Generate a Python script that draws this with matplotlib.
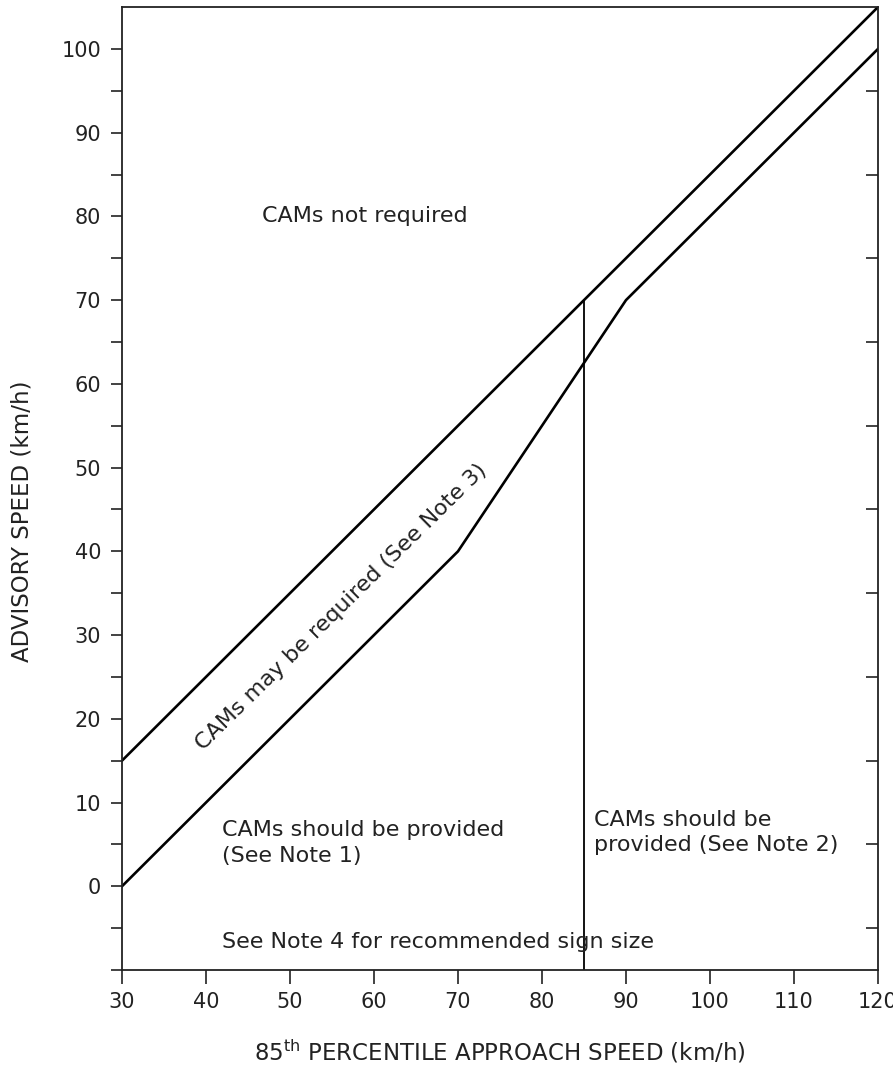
import matplotlib.pyplot as plt

plt.rcParams['font.family'] = ['DejaVu Sans']
plt.rcParams['mathtext.default'] = 'regular'

# boundary lines
upper_x = [30, 120]
upper_y = [15, 105]
lower_x = [30, 70, 90, 120]
lower_y = [0, 40, 70, 100]
split_x = [85, 85]
split_y = [-10, 70]

xticks = [30, 40, 50, 60, 70, 80, 90, 100, 110, 120]
yticks = [0, 10, 20, 30, 40, 50, 60, 70, 80, 90, 100]
yminor = [-10, -5, 5, 15, 25, 35, 45, 55, 65, 75, 85, 95]
right_ticks = [-5, 5, 15, 25, 35, 45, 55, 65, 75, 85, 95]

txt = '#222222'
fs_tick = 15
fs = 16

fig = plt.figure(figsize=(8.93, 10.82), dpi=100)
ax = fig.add_axes([0.1366, 0.1035, 0.8466, 0.89])

ax.plot(upper_x, upper_y, color='black', lw=1.9)
ax.plot(lower_x, lower_y, color='black', lw=1.9)
ax.plot(split_x, split_y, color='black', lw=1.3)

ax.set_xlim(30, 120)
ax.set_ylim(-10, 105)

ax.set_xticks(xticks)
ax.set_yticks(yticks)
ax.set_yticks(yminor, minor=True)
ax.tick_params(axis='both', which='both', direction='out', colors='#222222',
               labelcolor=txt, labelsize=fs_tick, width=1.2)
ax.tick_params(axis='y', which='both', length=8, pad=7, right=False)
ax.tick_params(axis='x', which='major', length=10, pad=6, top=False)
for s in ax.spines.values():
    s.set_linewidth(1.3)
    s.set_color('#222222')

ax2 = ax.twinx()
ax2.set_ylim(-10, 105)
ax2.set_yticks(right_ticks)
ax2.tick_params(axis='y', direction='in', length=9, width=1.2, labelright=False,
                colors='#222222')
for s in ax2.spines.values():
    s.set_visible(False)

ax.set_xlabel(r'85$^{th}$ PERCENTILE APPROACH SPEED (km/h)', fontsize=16.5,
              color=txt, va='center')
ax.xaxis.set_label_coords(0.5, -0.085)
ax.set_ylabel('ADVISORY SPEED (km/h)', fontsize=16.5, color=txt, va='center')
ax.yaxis.set_label_coords(-0.132, 0.466)

ax.text(46.7, 80, 'CAMs not required', fontsize=fs, color=txt, va='center')
ax.text(56.1, 33.4, 'CAMs may be required (See Note 3)', fontsize=fs, color=txt,
        rotation=44.5, rotation_mode='anchor', ha='center', va='center')
ax.text(41.9, 5.2, 'CAMs should be provided\n(See Note 1)', fontsize=fs,
        color=txt, va='center', linespacing=1.4)
ax.text(86.2, 6.4, 'CAMs should be\nprovided (See Note 2)', fontsize=fs,
        color=txt, va='center', linespacing=1.3)
ax.text(41.9, -6.6, 'See Note 4 for recommended sign size', fontsize=fs,
        color=txt, va='center')

fig.savefig('out.png', dpi=100)
